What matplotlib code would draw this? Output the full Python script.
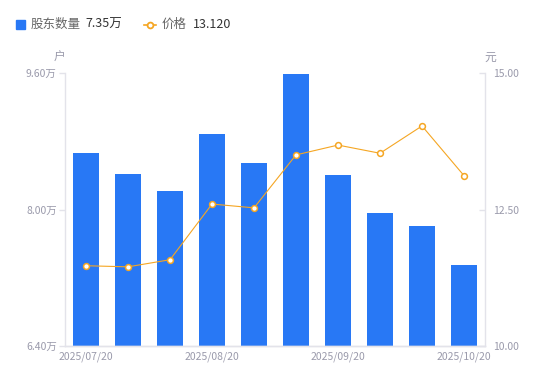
import matplotlib
matplotlib.use("Agg")
import matplotlib.pyplot as plt
import numpy as np

plt.rcParams['font.family'] = ['Noto Sans CJK SC', 'DejaVu Sans']

# data
dates = ["2025/07/20", "2025/07/31", "2025/08/10", "2025/08/20", "2025/08/31",
         "2025/09/10", "2025/09/20", "2025/09/30", "2025/10/10", "2025/10/20"]
holders = [8.66, 8.42, 8.22, 8.885, 8.545, 9.59, 8.40, 7.96, 7.81, 7.35]   # 万户
price = [11.47, 11.45, 11.58, 12.60, 12.53, 13.50, 13.68, 13.53, 14.03, 13.12]
shown_dates = [0, 3, 6, 9]
left_ticks = [6.40, 8.00, 9.60]
right_ticks = [10.00, 12.50, 15.00]

blue = '#2878f5'
orange = '#f5a623'
grey_txt = '#9a9aab'
axis_col = '#e3e3ea'

fig = plt.figure(figsize=(5.5, 3.81), dpi=100)
ax = fig.add_axes([65/550, 35/381, 420/550, 273/381])
ax2 = ax.twinx()

x = np.arange(len(dates))
ax.bar(x, np.array(holders) - left_ticks[0], bottom=left_ticks[0], width=0.6,
       color=blue, zorder=2)
ax.set_xlim(-0.5, len(dates) - 0.5)
ax.set_ylim(left_ticks[0], left_ticks[-1])
ax.set_yticks(left_ticks)
ax.set_yticklabels([f"{v:.2f}万" for v in left_ticks])
ax.set_xticks(shown_dates)
ax.set_xticklabels([dates[i] for i in shown_dates])

ax2.plot(x, price, color=orange, lw=0.8, marker='o', ms=4.2, mfc='white',
         mec=orange, mew=1.1, zorder=3)
ax2.set_ylim(right_ticks[0], right_ticks[-1])
ax2.set_yticks(right_ticks)
ax2.set_yticklabels([f"{v:.2f}" for v in right_ticks])

for a in (ax, ax2):
    a.spines['top'].set_visible(False)
    for s in ('left', 'right', 'bottom'):
        a.spines[s].set_color(axis_col)
        a.spines[s].set_linewidth(1)
    a.tick_params(colors=axis_col, labelcolor=grey_txt, labelsize=7.5,
                  length=4, width=1)
ax.tick_params(axis='x', length=0, pad=4)
ax.tick_params(axis='y', pad=2)
ax2.tick_params(axis='y', direction='in', pad=6)
ax2.spines['left'].set_visible(False)
ax.spines['right'].set_visible(False)

# axis units
fig.text(60/550, 1 - 57/381, "户", color=grey_txt, fontsize=8.5, ha='center', va='center')
fig.text(490/550, 1 - 57/381, "元", color=grey_txt, fontsize=8.5, ha='center', va='center')

# legend
fig.patches.append(plt.Rectangle((16/550, 1 - 29/381), 9/550, 9/381,
                                 transform=fig.transFigure, color=blue,
                                 figure=fig))
fig.text(31/550, 1 - 24.5/381, "股东数量", color='#666666', fontsize=9, va='center')
fig.text(85/550, 1 - 24.5/381, f"{holders[-1]:.2f}万", color='#333333', fontsize=9, va='center')
fig.lines.append(plt.Line2D([144/550, 156/550], [1 - 24.5/381] * 2,
                            transform=fig.transFigure, color=orange, lw=1.2))
fig.lines.append(plt.Line2D([150/550], [1 - 24.5/381], transform=fig.transFigure,
                            color=orange, marker='o', ms=4.2, mfc='white',
                            mec=orange, mew=1.3))
fig.text(162/550, 1 - 24.5/381, "价格", color='#666666', fontsize=9, va='center')
fig.text(193/550, 1 - 24.5/381, f"{price[-1]:.3f}", color='#333333', fontsize=9, va='center')

fig.savefig("out.png", dpi=100)
